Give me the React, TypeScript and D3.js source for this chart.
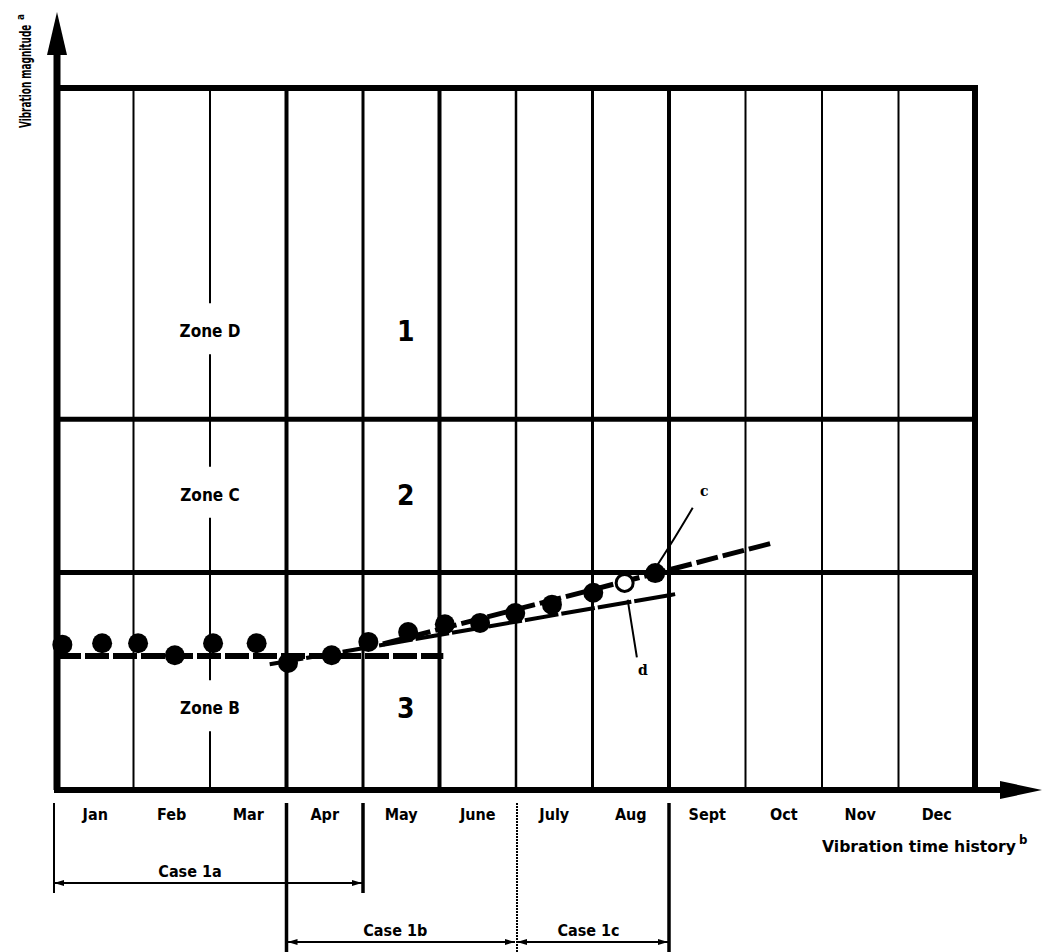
import React from "react";
import * as d3 from "d3";

// ---------- data ----------
const months = ["Jan", "Feb", "Mar", "Apr", "May", "June", "July", "Aug", "Sept", "Oct", "Nov", "Dec"];
const magnitudeMax = 10;
const zoneBounds = [3.1, 5.28]; // B/C and C/D boundaries
const zoneNames = ["Zone D", "Zone C", "Zone B"];
const zoneNumbers = ["1", "2", "3"];
const zoneLabelValues = [6.55, 4.22, 1.18];
const zoneLabelMonth = 2.0;
const zoneNumberMonth = 4.56;

const pointTimes = [0.07, 0.59, 1.06, 1.54, 2.04, 2.61, 3.02, 3.59, 4.07, 4.59, 5.07, 5.53, 5.99, 6.47, 7.01, 7.82];
const pointValues = [2.07, 2.09, 2.09, 1.92, 2.09, 2.09, 1.81, 1.92, 2.11, 2.25, 2.36, 2.38, 2.52, 2.64, 2.81, 3.09];
const openPointTime = [7.42];
const openPointValue = [2.95];

const baselineTrend: [number, number][] = [[0, 1.91], [5.05, 1.91]];
const trendD: [number, number][] = [[2.78, 1.79], [8.08, 2.79]];
const trendC: [number, number][] = [[4.26, 2.08], [9.36, 3.52]];

const leaderC: [number, number][] = [[7.84, 3.19], [8.08, 3.6], [8.31, 4.02]];
const leaderD: [number, number][] = [[7.46, 2.71], [7.52, 2.3], [7.58, 1.89]];
const noteLabels = ["c", "d"];
const noteTimes = [8.46, 7.66];
const noteValues = [4.19, 1.64];

const caseLabels = ["Case 1a", "Case 1b", "Case 1c"];
const caseStarts = [0, 3, 6];
const caseEnds = [4, 6, 8];
const caseRowsIdx = [0, 1, 1];

// ---------- styles ----------
const gridWeights = [6, 2, 2, 4, 3, 4, 2.5, 3, 4, 2, 2, 2, 6];
const SANS = "'DejaVu Sans Condensed', 'DejaVu Sans', sans-serif";

export default function App() {
  const W = 1050, H = 952;
  const x = d3.scaleLinear().domain([0, 12]).range([57, 975]);
  const y = d3.scaleLinear().domain([0, magnitudeMax]).range([790, 88]);
  const line = d3.line<[number, number]>().x(d => x(d[0])).y(d => y(d[1]));
  const curve = d3.line<[number, number]>().x(d => x(d[0])).y(d => y(d[1])).curve(d3.curveBasis);

  const top = y(magnitudeMax), bottom = y(0);

  // gaps in the Mar line around the zone labels
  const gaps = zoneLabelValues.map(v => [y(v) - 27, y(v) + 24]).sort((a, b) => a[0] - b[0]);
  const marSegs: [number, number][] = [];
  let cur = top;
  gaps.forEach(g => { marSegs.push([cur, g[0]]); cur = g[1]; });
  marSegs.push([cur, bottom]);

  const rowY = [883, 942];
  const tickTop = 803;
  const caseLabelShift = [-20, -6, -4];

  const arrow = (x1: number, x2: number, yy: number, key: string) => {
    const L = 10, h = 3;
    return (
      <g key={key}>
        <line x1={x1} x2={x2} y1={yy} y2={yy} stroke="#000" strokeWidth={2} />
        <path d={`M${x1},${yy} L${x1 + L},${yy - h} L${x1 + L},${yy + h} Z`} fill="#000" />
        <path d={`M${x2},${yy} L${x2 - L},${yy - h} L${x2 - L},${yy + h} Z`} fill="#000" />
      </g>
    );
  };

  return (
    <svg width={W} height={H} style={{ position: "absolute", left: 0, top: 0, background: "#fff" }}>
      <rect width={W} height={H} fill="#fff" />
      {/* vertical month grid */}
      {d3.range(13).map(i =>
        i === 2 ? (
          marSegs.map((s, j) => (
            <line key={`m${j}`} x1={x(i)} x2={x(i)} y1={s[0]} y2={s[1]} stroke="#000" strokeWidth={gridWeights[i]} />
          ))
        ) : (
          <line key={`v${i}`} x1={x(i)} x2={x(i)} y1={i === 0 ? 40 : top} y2={bottom} stroke="#000" strokeWidth={gridWeights[i]} />
        )
      )}
      {/* horizontal lines */}
      <line x1={x(0) - 3} x2={x(12) + 3} y1={top} y2={top} stroke="#000" strokeWidth={6} />
      {zoneBounds.map((b, i) => (
        <line key={`z${i}`} x1={x(0)} x2={x(12)} y1={y(b)} y2={y(b)} stroke="#000" strokeWidth={5} />
      ))}
      {/* x axis with arrow */}
      <line x1={x(0) - 3} x2={1005} y1={bottom} y2={bottom} stroke="#000" strokeWidth={6} />
      <path d={`M1000,${bottom - 9} L1042,${bottom} L1000,${bottom + 9} Z`} fill="#000" />
      {/* y axis arrow */}
      <line x1={x(0)} x2={x(0)} y1={bottom} y2={45} stroke="#000" strokeWidth={7} />
      <path d={`M${x(0) - 10},55 L${x(0)},12 L${x(0) + 10},55 Z`} fill="#000" />

      {/* zone labels */}
      {zoneNames.map((n, i) => (
        <text key={n} x={x(zoneLabelMonth)} y={y(zoneLabelValues[i]) + 7} textAnchor="middle"
          fontFamily={SANS} fontWeight="bold" fontSize={17}>{n}</text>
      ))}
      {zoneNumbers.map((n, i) => (
        <text key={`n${n}`} x={x(zoneNumberMonth)} y={y(zoneLabelValues[i]) + 11} textAnchor="middle"
          fontFamily={SANS} fontWeight="600" fontSize={28}>{n}</text>
      ))}

      {/* trend lines */}
      <path d={line(baselineTrend)!} stroke="#000" strokeWidth={6} strokeDasharray="24 4" fill="none" />
      <path d={line(trendD)!} stroke="#000" strokeWidth={4} strokeDasharray="34 3" fill="none" />
      <path d={line(trendC)!} stroke="#000" strokeWidth={5} strokeDasharray="22 5" fill="none" />

      {/* points */}
      {pointTimes.map((t, i) => (
        <circle key={`p${i}`} cx={x(t)} cy={y(pointValues[i])} r={10} fill="#000" />
      ))}
      {openPointTime.map((t, i) => (
        <circle key={`o${i}`} cx={x(t)} cy={y(openPointValue[i])} r={8.5} fill="#fff" stroke="#000" strokeWidth={3} />
      ))}

      {/* notes c, d */}
      <path d={curve(leaderC)!} stroke="#000" strokeWidth={2} fill="none" />
      <path d={curve(leaderD)!} stroke="#000" strokeWidth={2} fill="none" />
      {noteLabels.map((l, i) => (
        <text key={l} x={x(noteTimes[i])} y={y(noteValues[i])} textAnchor="middle"
          fontFamily="'DejaVu Serif', 'Liberation Serif', serif" fontWeight="bold" fontSize={14}>{l}</text>
      ))}

      {/* month labels */}
      {months.map((m, i) => (
        <text key={m} x={x(i + 0.5)} y={820} textAnchor="middle" fontFamily={SANS} fontWeight="bold" fontSize={16}>{m}</text>
      ))}

      {/* x axis title */}
      <text x={822} y={852} fontFamily={SANS} fontWeight="bold" fontSize={16} textLength={194} lengthAdjust="spacingAndGlyphs">
        Vibration time history
      </text>
      <text x={1019} y={844} fontFamily={SANS} fontWeight="bold" fontSize={13}>b</text>

      {/* y axis title */}
      <text transform="translate(31,128) rotate(-90) scale(0.66,1)" textAnchor="start" fontFamily={SANS} fontWeight="bold" fontSize={15}>
        Vibration magnitude
      </text>
      <text transform="translate(24,20) rotate(-90)" textAnchor="start" fontFamily={SANS} fontWeight="bold" fontSize={10}>a</text>

      {/* cases */}
      {caseLabels.map((c, i) => {
        const yy = rowY[caseRowsIdx[i]];
        const x1 = x(caseStarts[i]), x2 = x(caseEnds[i]);
        return (
          <g key={c}>
            {arrow(i === 0 ? x1 - 3 : x1 + 1, x2 - 1, yy, `a${i}`)}
            <text x={(x1 + x2) / 2 + caseLabelShift[i]} y={yy - 6} textAnchor="middle" fontFamily={SANS} fontWeight="bold" fontSize={16}>{c}</text>
          </g>
        );
      })}
      {/* case boundary ticks */}
      <line x1={x(caseStarts[0]) - 3} x2={x(caseStarts[0]) - 3} y1={tickTop} y2={rowY[0] + 10} stroke="#000" strokeWidth={2} />
      <line x1={x(caseEnds[0])} x2={x(caseEnds[0])} y1={tickTop} y2={rowY[0] + 10} stroke="#000" strokeWidth={3.5} />
      <line x1={x(caseStarts[1])} x2={x(caseStarts[1])} y1={tickTop} y2={H} stroke="#000" strokeWidth={3.5} />
      <line x1={x(caseEnds[1]) + 1} x2={x(caseEnds[1]) + 1} y1={tickTop} y2={H} stroke="#000" strokeWidth={2} strokeDasharray="2 1" />
      <line x1={x(caseEnds[2])} x2={x(caseEnds[2])} y1={tickTop} y2={H} stroke="#000" strokeWidth={3.5} />
    </svg>
  );
}
